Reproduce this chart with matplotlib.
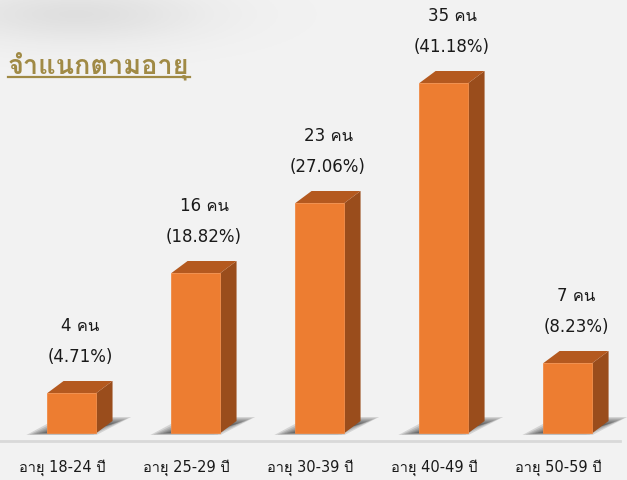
import numpy as np
import matplotlib
matplotlib.use("Agg")
import matplotlib.pyplot as plt
from matplotlib import font_manager, ft2font
from matplotlib.patches import Polygon

# data
categories = ["อายุ 18-24 ปี", "อายุ 25-29 ปี", "อายุ 30-39 ปี", "อายุ 40-49 ปี", "อายุ 50-59 ปี"]
counts     = [4, 16, 23, 35, 7]
percents   = ["4.71%", "18.82%", "27.06%", "41.18%", "8.23%"]
title      = "จำแนกตามอายุ"

# look for an installed font with Thai glyphs
thai = []
for f in font_manager.fontManager.ttflist:
    try:
        if 0x0E01 in ft2font.FT2Font(f.fname).get_charmap() and f.name not in thai:
            thai.append(f.name)
    except Exception:
        pass
plt.rcParams['font.family'] = ['DejaVu Sans'] + thai[:1]

BG    = "#f2f2f2"
FRONT = "#ed7d31"
SIDE  = "#9a4d1c"
TOP   = "#b4591f"
GOLD  = "#a08a45"

fig = plt.figure(figsize=(6.27, 4.81), dpi=100, facecolor=BG)
ax = fig.add_axes([0, 0, 1, 1])
ax.set_facecolor(BG)
ax.set_xlim(-0.58, 4.476)
ax.set_ylim(-4.7, 43.4)
ax.axis("off")

# soft grey smudge in the top-left corner
gx, gy = np.meshgrid(np.linspace(0, 1, 300), np.linspace(0, 1, 300))
shade = np.exp(-(((gx - 0.12) / 0.2) ** 2 + ((1 - gy - 0.03) / 0.06) ** 2))
rgba = np.zeros((300, 300, 4))
rgba[..., :3] = 0.5
rgba[..., 3] = 0.16 * shade
ax.imshow(rgba, extent=(-0.58, 4.476, -4.7, 43.4), aspect="auto", zorder=0, origin="lower")

w, dx, dy = 0.395, 0.13, 1.2
x = np.arange(len(counts))

# baseline
ax.plot([-0.58, 4.42], [-0.8, -0.8], color="#d9d9d9", lw=2, zorder=1)

for xi, c, p, lab in zip(x, counts, percents, categories):
    l, r = xi - w / 2, xi + w / 2
    # shadow
    for k in range(8):
        s = k * 0.025
        ax.add_patch(Polygon([(l - 0.17 + s, -0.2 + k * 0.04), (r - s, -0.2 + k * 0.04),
                              (r + 0.28 - s, 1.6 - k * 0.12), (l + 0.1 + s, 1.6 - k * 0.12)],
                             closed=True, facecolor="#1a1a1a", alpha=0.14, lw=0, zorder=2))
    ax.bar(xi, c, width=w, color=FRONT, edgecolor="#f08a45", lw=0.6, zorder=4)
    ax.add_patch(Polygon([(r, 0), (r + dx, dy), (r + dx, c + dy), (r, c)],
                         closed=True, facecolor=SIDE, lw=0, zorder=3))
    ax.add_patch(Polygon([(l, c), (r, c), (r + dx, c + dy), (l + dx, c + dy)],
                         closed=True, facecolor=TOP, lw=0, zorder=3))
    cx = xi + dx / 2
    ax.text(cx, c + 6.8, f"{c} คน", ha="center", va="center", fontsize=12, color="#1a1a1a")
    ax.text(cx, c + 3.7, f"({p})", ha="center", va="center", fontsize=12, color="#1a1a1a")
    ax.text(xi - 0.08, -3.4, lab, ha="center", va="center", fontsize=10.5, color="#1a1a1a")

t = ax.text(-0.515, 36.0, title, ha="left", va="baseline", fontsize=19.5, color=GOLD,
            fontweight="bold", family=thai[:1] + ['DejaVu Sans'])
fig.canvas.draw()
bb = t.get_window_extent().transformed(ax.transData.inverted())
ax.plot([bb.x0, bb.x1], [35.6, 35.6], color=GOLD, lw=1.6)

fig.savefig("out.png", dpi=100, facecolor=BG)
